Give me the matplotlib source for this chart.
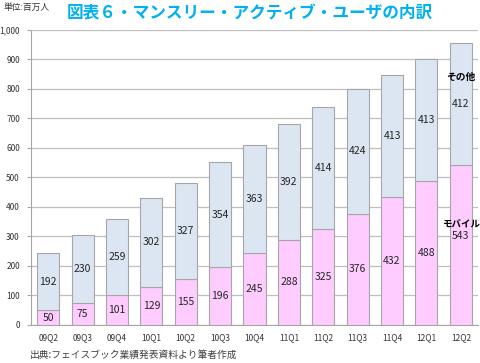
import matplotlib
matplotlib.use("Agg")
import matplotlib.pyplot as plt
import numpy as np

plt.rcParams['font.family'] = ['Noto Sans CJK JP', 'DejaVu Sans']

quarters = ["09Q2", "09Q3", "09Q4", "10Q1", "10Q2", "10Q3", "10Q4",
            "11Q1", "11Q2", "11Q3", "11Q4", "12Q1", "12Q2"]
mobile = [50, 75, 101, 129, 155, 196, 245, 288, 325, 376, 432, 488, 543]
other = [192, 230, 259, 302, 327, 354, 363, 392, 414, 424, 413, 413, 412]
yticks = [0, 100, 200, 300, 400, 500, 600, 700, 800, 900, 1000]
ytick_labels = ["0", "100", "200", "300", "400", "500", "600", "700", "800", "900", "1,000"]

fig = plt.figure(figsize=(4.81, 3.63), dpi=100)
ax = fig.add_axes([31/481, 1-325/363, (478-31)/481, (325-29.5)/363])

x = np.arange(len(quarters))
pink = "#FFCCFF"
blue = "#DCE6F2"
edge = "#A6A6A6"
w = 0.64
ax.bar(x, mobile, w, color=pink, edgecolor=edge, linewidth=0.8, zorder=3)
ax.bar(x, other, w, bottom=mobile, color=blue, edgecolor=edge, linewidth=0.8, zorder=3)

txtc = "#262626"
n = len(quarters)
for i in range(n):
    if i == n - 1:
        ax.text(x[i], mobile[i] + other[i] / 2, str(other[i]), ha='center', va='center',
                fontsize=7.5, color=txtc, zorder=4)
        ax.text(x[i], mobile[i] + other[i] / 2 + 90, "その他", ha='center', va='center',
                fontsize=7, color="black", fontweight='bold', zorder=4)
        ax.text(x[i], 302, str(mobile[i]), ha='center', va='center',
                fontsize=7.5, color=txtc, zorder=4)
        ax.text(x[i] + 0.02, 340, "モバイル", ha='center', va='center',
                fontsize=6.8, color="black", fontweight='bold', zorder=4, clip_on=False)
    else:
        ax.text(x[i], mobile[i] / 2, str(mobile[i]), ha='center', va='center',
                fontsize=7.5, color=txtc, zorder=4)
        ax.text(x[i], mobile[i] + other[i] / 2, str(other[i]), ha='center', va='center',
                fontsize=7.5, color=txtc, zorder=4)

ax.set_xlim(-0.5, n - 0.5)
ax.set_ylim(0, 1000)
ax.set_yticks(yticks)
ax.set_yticklabels(ytick_labels)
ax.set_xticks(x)
ax.set_xticklabels(quarters)
ax.yaxis.grid(True, color="#BFBFBF", linewidth=0.9, zorder=0)
ax.set_axisbelow(True)
for s in ["top", "right"]:
    ax.spines[s].set_visible(False)
ax.spines["left"].set_color("#A6A6A6")
ax.spines["bottom"].set_color("#A6A6A6")
ax.tick_params(axis='y', length=3, color="#A6A6A6", labelsize=6, labelcolor="#333333", pad=5)
ax.tick_params(axis='x', length=0, labelsize=6, labelcolor="#333333", pad=6)

fig.text(250/481, 1-13/363, "図表６・マンスリー・アクティブ・ユーザの内訳", ha='center', va='center',
         fontsize=12, fontweight='bold', color="#00B0F0")
fig.text(3/481, 1-7/363, "単位:百万人", ha='left', va='center', fontsize=6.3, color="#333333")
fig.text(30/481, 1-355/363, "出典:フェイスブック業績発表資料より筆者作成", ha='left', va='center',
         fontsize=7, color="#404040")

fig.savefig("out.png", dpi=100)
